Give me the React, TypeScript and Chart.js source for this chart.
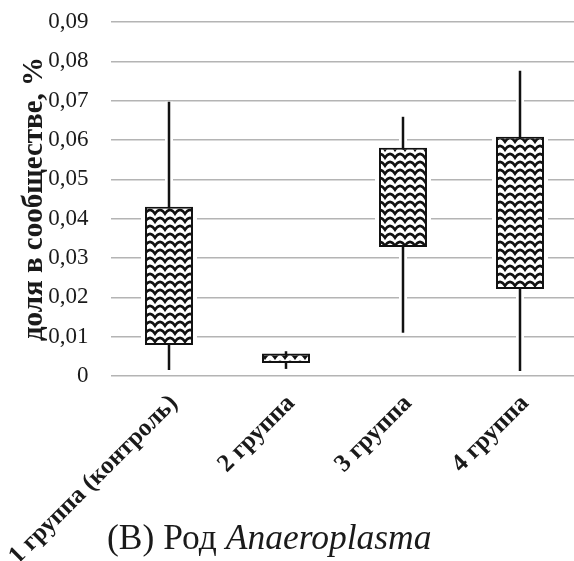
import React, { useEffect, useRef } from "react";
import { Chart, registerables } from "chart.js";

Chart.register(...registerables);

const categories = ["1 группа (контроль)", "2 группа", "3 группа", "4 группа"];
const whiskerMin = [0.0015, 0.0018, 0.011, 0.0013];
const boxLow = [0.0079, 0.0033, 0.0328, 0.0221];
const boxHigh = [0.043, 0.0057, 0.058, 0.0608];
const whiskerMax = [0.0697, 0.0063, 0.0659, 0.0776];
const yTicks = [0, 0.01, 0.02, 0.03, 0.04, 0.05, 0.06, 0.07, 0.08, 0.09];

const FONT = "'Liberation Serif', 'Times New Roman', serif";

function makePattern(): CanvasPattern | string {
  const c = document.createElement("canvas");
  c.width = 10;
  c.height = 8;
  const g = c.getContext("2d");
  if (!g) return "#000";
  g.fillStyle = "#fff";
  g.fillRect(0, 0, 10, 8);
  g.strokeStyle = "#111";
  g.lineWidth = 2.5;
  for (const off of [-8, 0, 8]) {
    g.beginPath();
    g.moveTo(-1, 1.8 + off);
    g.quadraticCurveTo(2.5, 1.8 + off, 5, 5.8 + off);
    g.quadraticCurveTo(7.5, 1.8 + off, 11, 1.8 + off);
    g.stroke();
  }
  const p = g.createPattern(c, "repeat");
  return p || "#000";
}

const whiskerPlugin = {
  id: "whiskers",
  beforeDatasetsDraw(chart: any) {
    const ctx = chart.ctx;
    const xs = chart.scales.x;
    const ys = chart.scales.y;
    const meta = chart.getDatasetMeta(0);
    ctx.save();
    categories.forEach((_, i) => {
      const x = xs.getPixelForValue(i);
      const bar = meta.data[i] as any;
      const half = bar.width / 2;
      ctx.strokeStyle = "#fff";
      ctx.lineWidth = 8;
      ctx.beginPath();
      ctx.moveTo(x, ys.getPixelForValue(whiskerMin[i]));
      ctx.lineTo(x, ys.getPixelForValue(whiskerMax[i]));
      ctx.stroke();
      ctx.fillStyle = "#fff";
      const yt = ys.getPixelForValue(boxHigh[i]);
      const yb = ys.getPixelForValue(boxLow[i]);
      ctx.fillRect(x - half - 4, yt - 1, bar.width + 8, yb - yt + 2);
    });
    categories.forEach((_, i) => {
      const x = xs.getPixelForValue(i);
      ctx.strokeStyle = "#111";
      ctx.lineWidth = 2.5;
      ctx.beginPath();
      ctx.moveTo(x, ys.getPixelForValue(whiskerMin[i]));
      ctx.lineTo(x, ys.getPixelForValue(whiskerMax[i]));
      ctx.stroke();
    });
    ctx.restore();
  },
};

export default function App() {
  const ref = useRef<HTMLCanvasElement>(null);
  useEffect(() => {
    if (!ref.current) return;
    const pattern = makePattern();
    const chart = new Chart(ref.current, {
      type: "bar",
      data: {
        labels: categories,
        datasets: [
          {
            data: categories.map((_, i) => [boxLow[i], boxHigh[i]]) as any,
            backgroundColor: pattern as any,
            borderColor: "#111",
            borderWidth: 2,
            borderSkipped: false,
            categoryPercentage: 1,
            barPercentage: 0.41,
          },
        ],
      },
      options: {
        animation: false,
        responsive: false,
        events: [],
        layout: { padding: { top: 22, right: 11.5, left: 0, bottom: 0 } },
        plugins: { legend: { display: false }, tooltip: { enabled: false } },
        scales: {
          x: {
            offset: true,
            grid: { display: false, drawTicks: false },
            border: { display: false },
            ticks: {
              minRotation: 45,
              maxRotation: 45,
              padding: 13,
              labelOffset: 5,
              color: "#1a1a1a",
              font: { family: FONT, size: 25, weight: "bold" },
            },
            afterFit: (s: any) => {
              s.height = 185;
              s.paddingLeft = 0;
              s.paddingRight = 0;
            },
          },
          y: {
            min: 0,
            max: 0.09,
            afterBuildTicks: (s: any) => {
              s.ticks = yTicks.map((v) => ({ value: v }));
            },
            grid: { color: "#b4b4b4", lineWidth: 1.6, drawTicks: false },
            border: { display: false },
            ticks: {
              padding: 22,
              color: "#1a1a1a",
              font: { family: FONT, size: 23 },
              callback: (v: any) => (v === 0 ? "0" : Number(v).toFixed(2).replace(".", ",")),
            },
            title: {
              display: true,
              text: "доля в сообществе, %",
              color: "#1a1a1a",
              font: { family: FONT, size: 29, weight: "bold" },
              padding: { top: 17, bottom: 0 },
            },
            afterFit: (s: any) => {
              s.width = 110.5;
              s.paddingTop = 0;
              s.paddingBottom = 0;
            },
          },
        },
      },
      plugins: [whiskerPlugin],
    });
    return () => chart.destroy();
  }, []);
  return (
    <div
      style={{
        position: "fixed",
        left: 0,
        top: 0,
        width: 574,
        height: 561,
        overflow: "hidden",
        background: "#fff",
      }}
    >
      <canvas ref={ref} width={590} height={561} style={{ display: "block" }} />
      <div
        style={{
          position: "absolute",
          left: 107,
          top: 520,
          fontFamily: FONT,
          fontSize: 35.5,
          lineHeight: "35px",
          color: "#1a1a1a",
          whiteSpace: "nowrap",
        }}
      >
        (В) Род <i>Anaeroplasma</i>
      </div>
    </div>
  );
}
